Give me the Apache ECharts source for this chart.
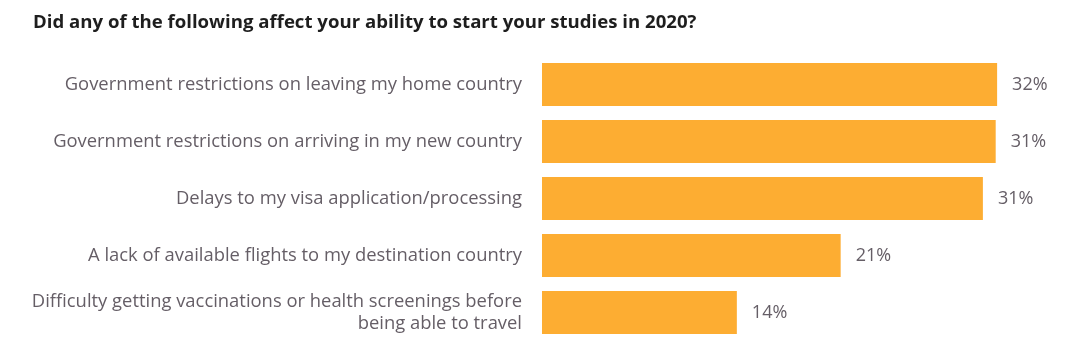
<!DOCTYPE html>
<html>
<head>
<meta charset="utf-8">
<script src="https://cdn.jsdelivr.net/npm/echarts@6/dist/echarts.min.js"></script>
<style>
html,body{margin:0;padding:0;background:#fff;}
#c{width:1080px;height:346px;}
</style>
</head>
<body>
<div id="c"></div>
<script>
const titleText = 'Did any of the following affect your ability to start your studies in 2020?';
const categories = [
  'Government restrictions on leaving my home country',
  'Government restrictions on arriving in my new country',
  'Delays to my visa application/processing',
  'A lack of available flights to my destination country',
  'Difficulty getting vaccinations or health screenings before\nbeing able to travel'
];
const values = [32.0, 31.9, 31.0, 21.0, 13.7];
const valueLabels = ['32%', '31%', '31%', '21%', '14%'];

const chart = echarts.init(document.getElementById('c'), null, {renderer: 'canvas'});
chart.setOption({
  animation: false,
  backgroundColor: '#fff',
  title: {
    text: titleText,
    left: 28,
    top: 8,
    textStyle: {fontFamily: 'Open Sans', fontWeight: 'bold', fontSize: 18.6, color: '#1e1e1e'}
  },
  grid: {left: 542, right: 26, top: 56, bottom: 5, containLabel: false},
  xAxis: {
    type: 'value', min: 0, max: 36, show: false
  },
  yAxis: {
    type: 'category',
    inverse: true,
    data: categories,
    axisLine: {show: false},
    axisTick: {show: false},
    axisLabel: {
      margin: 20,
      fontFamily: 'Open Sans',
      fontSize: 18.4,
      color: '#655e66',
      align: 'right',
      lineHeight: 22
    }
  },
  series: [{
    type: 'bar',
    data: values,
    barCategoryGap: '24.6%',
    itemStyle: {color: '#FDAD32'},
    label: {
      show: true,
      position: 'right',
      distance: 15,
      fontFamily: 'Open Sans',
      fontSize: 18,
      color: '#655e66',
      formatter: p => valueLabels[p.dataIndex]
    }
  }]
});
</script>
</body>
</html>
